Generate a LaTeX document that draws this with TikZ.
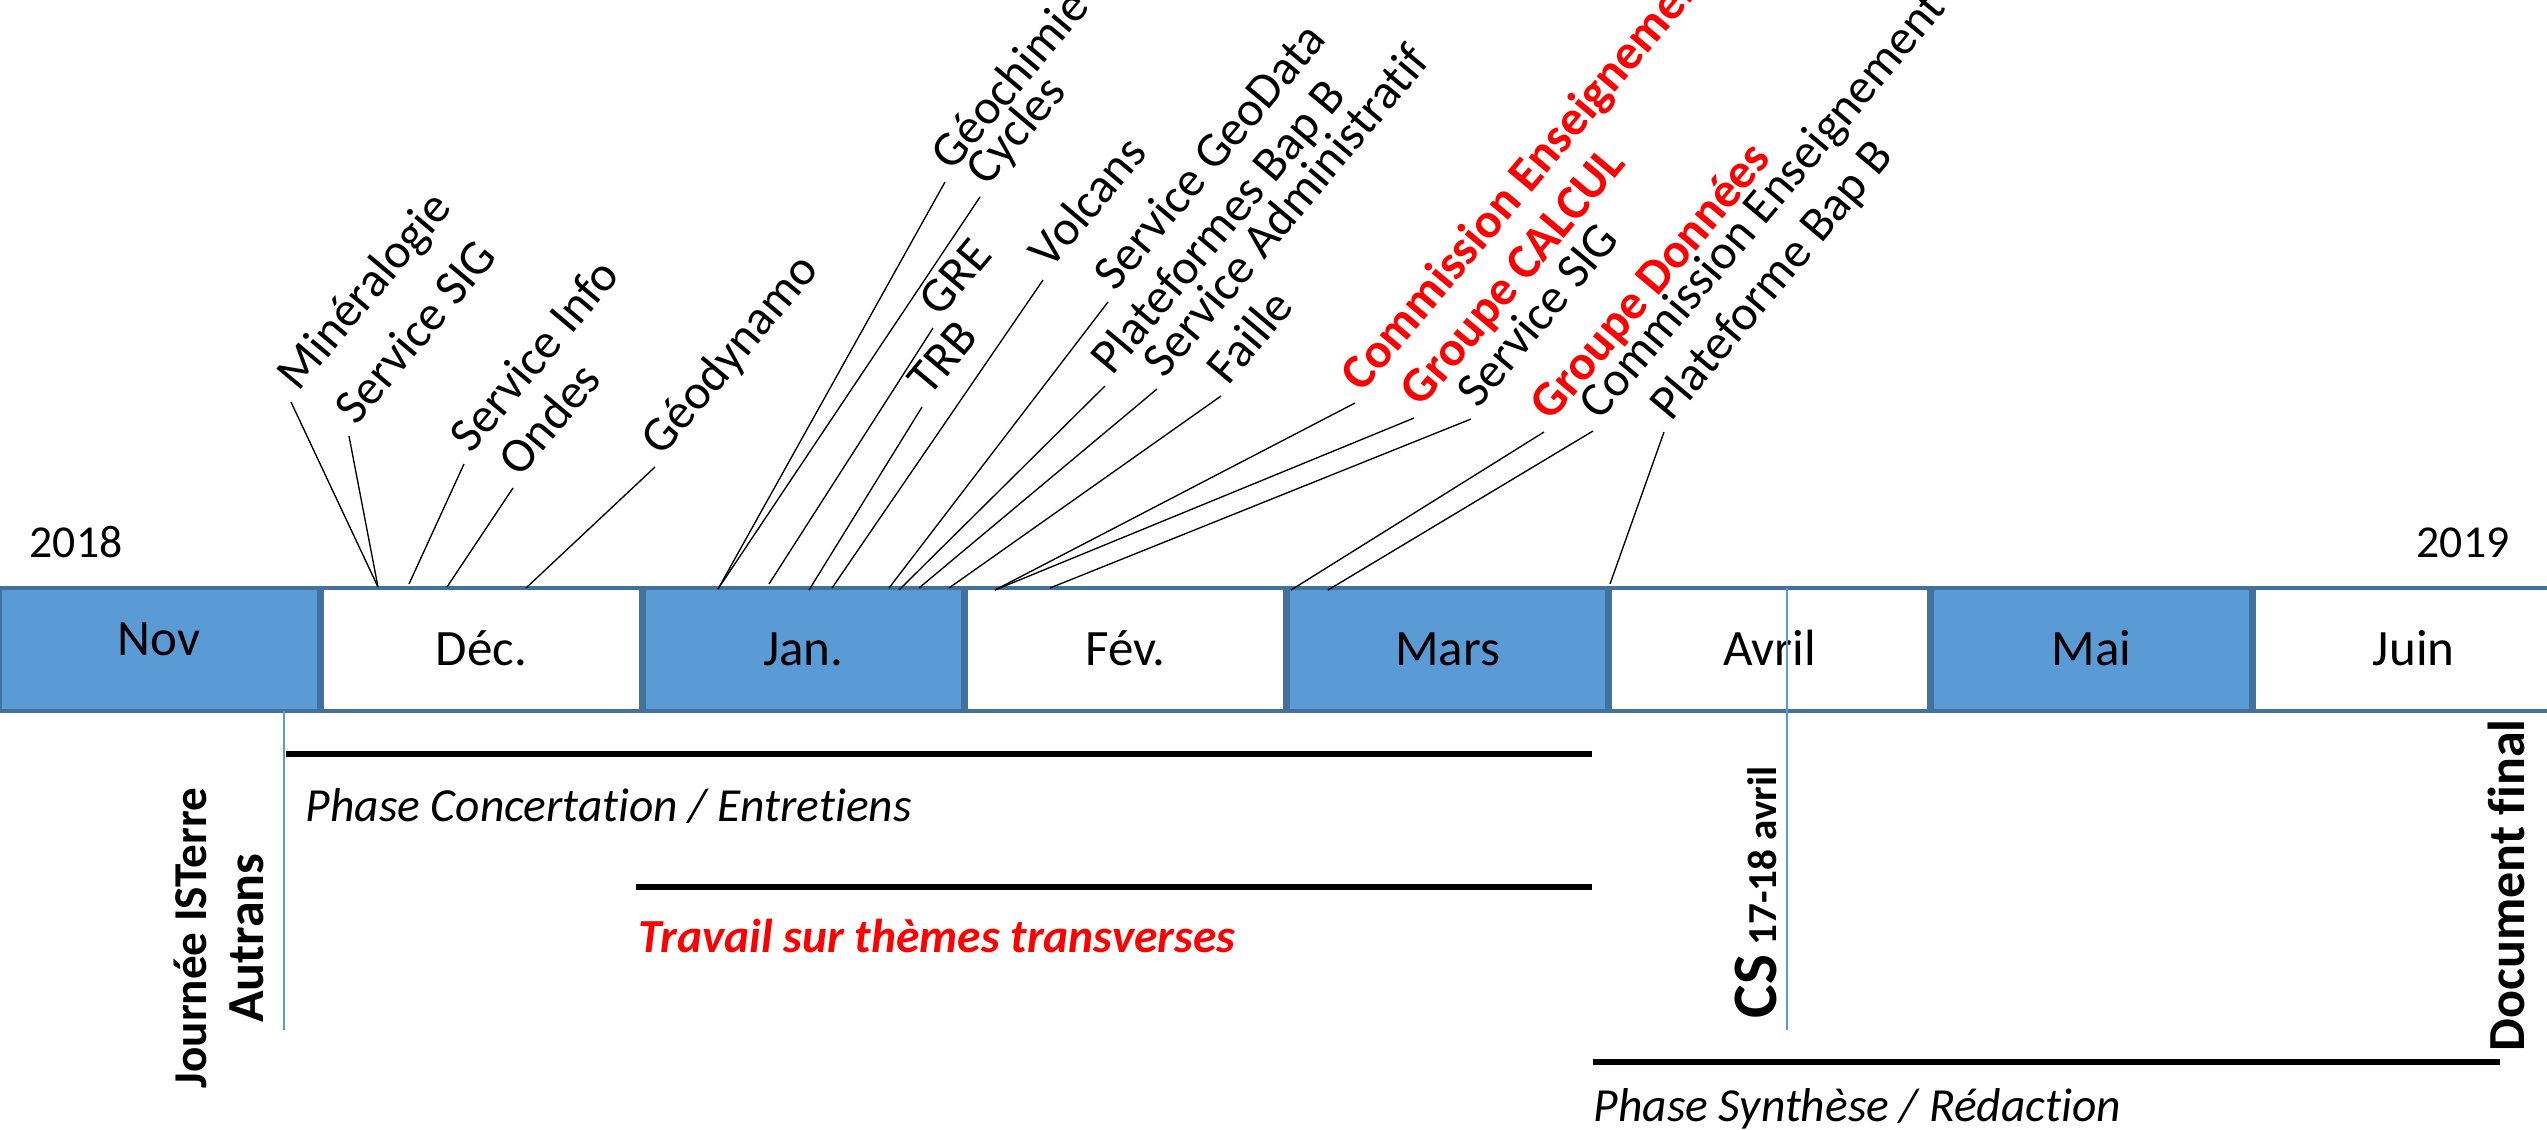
\documentclass[tikz,border=0pt]{standalone}
\usepackage{fontspec}
\setmainfont{Carlito}[Ligatures={NoCommon}]
\usetikzlibrary{positioning}
\definecolor{monthblue}{HTML}{5B9BD5}
\definecolor{monthedge}{HTML}{41719C}
\definecolor{hotred}{HTML}{FF0000}

\begin{document}
\begin{tikzpicture}[
    x=0.01cm, y=-0.01cm,
    cell/.style={rectangle, draw=monthedge, line width=1pt, minimum width=3.18375cm, minimum height=1.23cm, inner sep=0pt, text height=9.3pt, text depth=0pt, font=\fontsize{14.5}{17}\selectfont},
    topic/.style={rotate=50, anchor=base west, font=\fontsize{14}{16}\selectfont},
    hot/.style={topic, text=hotred, font=\fontsize{14}{16}\selectfont\bfseries},
    lead/.style={line width=0.38pt},
    phase/.style={line width=1.9pt},
    phasetxt/.style={anchor=base west, inner sep=0pt, font=\fontsize{13.5}{16}\selectfont\itshape},
    guide/.style={draw=monthblue, line width=0.45pt},
    stamp/.style={rotate=90, inner sep=0pt, font=\fontsize{14.8}{16}\selectfont\bfseries},
    year/.style={anchor=base, inner sep=0pt, font=\fontsize{13}{15}\selectfont}
]
\useasboundingbox (0,0) rectangle (2547,1129);

% Months
\node[cell, fill=monthblue] (nov) at (159.2,649.5) {\raisebox{3pt}{Nov}};
\node[cell, fill=white, right=0pt of nov] (dec) {Déc.};
\node[cell, fill=monthblue, right=0pt of dec] (jan) {Jan.};
\node[cell, fill=white, right=0pt of jan] (fev) {Fév.};
\node[cell, fill=monthblue, right=0pt of fev] (mars) {Mars};
\node[cell, fill=white, right=0pt of mars] (avril) {Avril};
\node[cell, fill=monthblue, right=0pt of avril] (mai) {Mai};
\node[cell, fill=white, right=0pt of mai] (juin) {Juin};

\node[year] (y2018) at (76,557) {2018};
\node[year] (y2019) at (2463,557) {2019};

% Markers
\coordinate (aut-a) at (284,711);
\coordinate (aut-b) at (284,1030);
\coordinate (cs-a) at (1787,588);
\coordinate (cs-b) at (1787,1030);
\draw[guide] (aut-a) -- (aut-b);
\draw[guide] (cs-a) -- (cs-b);

\node[stamp, align=center] (autrans) at (219,938) {\fontsize{13.4}{16}\selectfont Journée ISTerre\\Autrans};
\node[stamp, anchor=base west, font=\fontsize{11.7}{14}\selectfont\bfseries] (cs) at (1776,1019) {{\fontsize{18}{20}\selectfont CS} 17-18 avril};
\node[stamp, anchor=base west] (final) at (2524,1052) {Document final};

% Phases
\coordinate (conc-a) at (286,754);
\coordinate (conc-b) at (1592,754);
\coordinate (trav-a) at (636,887);
\coordinate (trav-b) at (1592,887);
\coordinate (synt-a) at (1593,1062);
\coordinate (synt-b) at (2500,1062);
\draw[phase] (conc-a) -- (conc-b);
\draw[phase] (trav-a) -- (trav-b);
\draw[phase] (synt-a) -- (synt-b);
\node[phasetxt] (conc) at (305,821) {Phase Concertation / Entretiens};
\node[phasetxt, text=hotred, font=\fontsize{13.5}{16}\selectfont\bfseries\itshape] (trav) at (638,952) {Travail sur thèmes transverses};
\node[phasetxt] (synt) at (1593,1121) {Phase Synthèse / Rédaction};

% Meetings, December
\node[topic] (min) at (291,402) {Minéralogie};
\node[topic] (sig) at (349,436) {Service SIG};
\node[topic] (info) at (464,464) {Service Info};
\node[topic] (ondes) at (513,488) {Ondes};
\node[topic] (geodyn) at (655,467) {Géodynamo};
\coordinate (min-f) at (378,587);
\coordinate (info-f) at (409,584);
\coordinate (ondes-f) at (447,587);
\coordinate (geodyn-f) at (526,588);
\draw[lead] (min.base west) -- (min-f);
\draw[lead] (sig.base west) -- (min-f);
\draw[lead] (info.base west) -- (info-f);
\draw[lead] (ondes.base west) -- (ondes-f);
\draw[lead] (geodyn.base west) -- (geodyn-f);

% Meetings, January
\node[topic] (geochim) at (945,182) {Géochimie};
\node[topic] (cycles) at (980,197) {Cycles};
\node[topic] (gre) at (933,328) {GRE};
\node[topic] (trb) at (922,407) {TRB};
\node[topic] (volc) at (1043,280) {Volcans};
\node[topic] (geodata) at (1108,302) {Service GeoData};
\node[topic] (plat) at (1105,386) {Plateformes Bap B};
\node[topic] (admin) at (1157,389) {Service Administratif};
\node[topic] (faille) at (1221,396) {Faille};
\coordinate (geochim-f) at (718,589);
\coordinate (gre-f) at (769,584);
\coordinate (trb-f) at (809,590);
\coordinate (volc-f) at (832,588);
\coordinate (geodata-f) at (889,588);
\coordinate (plat-f) at (899,590);
\coordinate (admin-f) at (919,588);
\coordinate (faille-f) at (949,588);
\draw[lead] (geochim.base west) -- (geochim-f);
\draw[lead] (cycles.base west) -- (geochim-f);
\draw[lead] (gre.base west) -- (gre-f);
\draw[lead] (trb.base west) -- (trb-f);
\draw[lead] (volc.base west) -- (volc-f);
\draw[lead] (geodata.base west) -- (geodata-f);
\draw[lead] (plat.base west) -- (plat-f);
\draw[lead] (admin.base west) -- (admin-f);
\draw[lead] (faille.base west) -- (faille-f);

% Meetings, February to April
\node[hot] (comm) at (1355,403) {Commission Enseignement};
\node[hot] (calcul) at (1414,418) {Groupe CALCUL};
\node[topic] (sig2) at (1471,419) {Service SIG};
\node[hot] (donnees) at (1544,432) {Groupe Données};
\node[topic] (comm2) at (1593,431) {Commission Enseignement};
\node[topic] (plat2) at (1664,432) {Plateforme Bap B};
\coordinate (comm-f) at (995,590);
\coordinate (sig2-f) at (1050,588);
\coordinate (donnees-f) at (1291,590);
\coordinate (comm2-f) at (1328,590);
\coordinate (plat2-f) at (1610,584);
\draw[lead] (comm.base west) -- (comm-f);
\draw[lead] (calcul.base west) -- (comm-f);
\draw[lead] (sig2.base west) -- (sig2-f);
\draw[lead] (donnees.base west) -- (donnees-f);
\draw[lead] (comm2.base west) -- (comm2-f);
\draw[lead] (plat2.base west) -- (plat2-f);

\end{tikzpicture}
\end{document}
